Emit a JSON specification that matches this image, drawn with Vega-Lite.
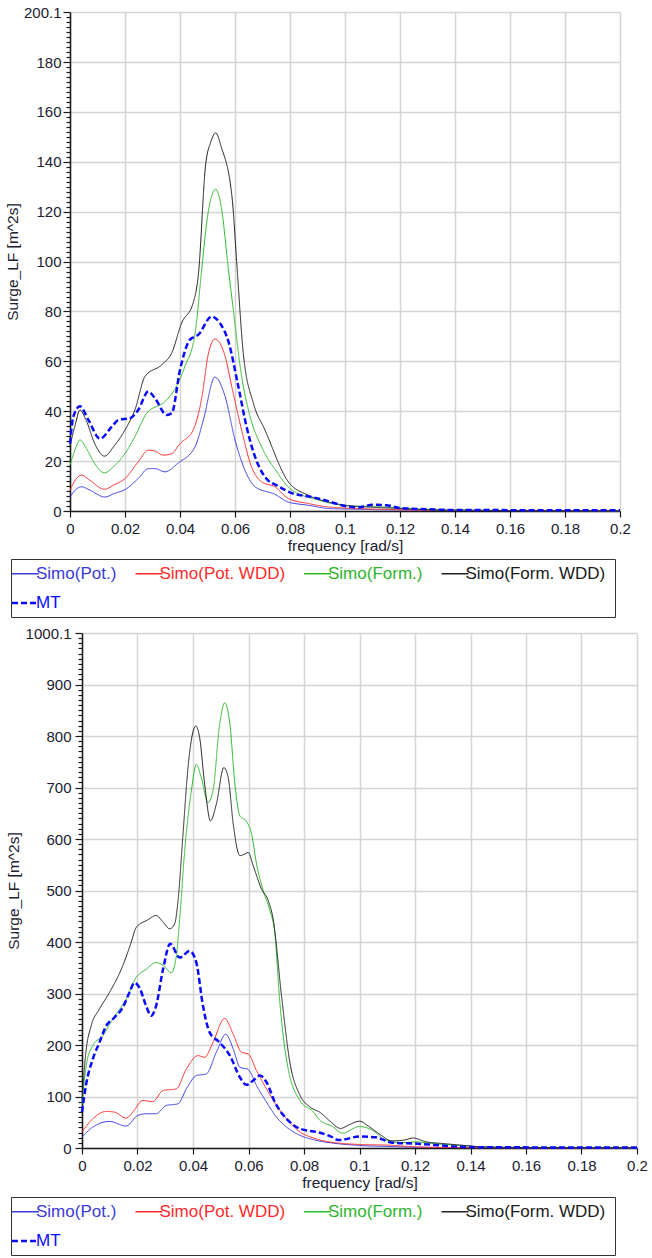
{
  "$schema": "https://vega.github.io/schema/vega-lite/v6.json",
  "padding": 5,
  "spacing": 8,
  "columns": 1,
  "datasets": {
    "top": [
      {"s":"Simo(Pot.)","f":0,"v":5.6},{"s":"Simo(Pot.)","f":0.002,"v":8.5},{"s":"Simo(Pot.)","f":0.0042,"v":9.7},{"s":"Simo(Pot.)","f":0.007,"v":8.5},{"s":"Simo(Pot.)","f":0.0127,"v":5.6},{"s":"Simo(Pot.)","f":0.016,"v":7},{"s":"Simo(Pot.)","f":0.02,"v":8.6},{"s":"Simo(Pot.)","f":0.0248,"v":13},{"s":"Simo(Pot.)","f":0.0285,"v":17},{"s":"Simo(Pot.)","f":0.031,"v":17},{"s":"Simo(Pot.)","f":0.0345,"v":15.7},{"s":"Simo(Pot.)","f":0.0394,"v":19.3},{"s":"Simo(Pot.)","f":0.0455,"v":25.8},{"s":"Simo(Pot.)","f":0.0485,"v":36.5},{"s":"Simo(Pot.)","f":0.0527,"v":53.7},{"s":"Simo(Pot.)","f":0.0564,"v":45.9},{"s":"Simo(Pot.)","f":0.06,"v":28.5},{"s":"Simo(Pot.)","f":0.0636,"v":16.4},{"s":"Simo(Pot.)","f":0.0673,"v":9.7},{"s":"Simo(Pot.)","f":0.0745,"v":6.7},{"s":"Simo(Pot.)","f":0.0794,"v":3.6},{"s":"Simo(Pot.)","f":0.0867,"v":2.3},{"s":"Simo(Pot.)","f":0.094,"v":1},{"s":"Simo(Pot.)","f":0.1,"v":0.8},{"s":"Simo(Pot.)","f":0.12,"v":0.4},{"s":"Simo(Pot.)","f":0.2,"v":0.1},
      {"s":"Simo(Pot. WDD)","f":0,"v":8.3},{"s":"Simo(Pot. WDD)","f":0.002,"v":12.5},{"s":"Simo(Pot. WDD)","f":0.0042,"v":14.4},{"s":"Simo(Pot. WDD)","f":0.007,"v":12.5},{"s":"Simo(Pot. WDD)","f":0.0125,"v":8.7},{"s":"Simo(Pot. WDD)","f":0.016,"v":10.5},{"s":"Simo(Pot. WDD)","f":0.02,"v":13},{"s":"Simo(Pot. WDD)","f":0.0248,"v":19.7},{"s":"Simo(Pot. WDD)","f":0.0285,"v":24.4},{"s":"Simo(Pot. WDD)","f":0.031,"v":24},{"s":"Simo(Pot. WDD)","f":0.034,"v":22.4},{"s":"Simo(Pot. WDD)","f":0.037,"v":23},{"s":"Simo(Pot. WDD)","f":0.04,"v":27},{"s":"Simo(Pot. WDD)","f":0.0448,"v":32.5},{"s":"Simo(Pot. WDD)","f":0.048,"v":45.9},{"s":"Simo(Pot. WDD)","f":0.0503,"v":63},{"s":"Simo(Pot. WDD)","f":0.0527,"v":69},{"s":"Simo(Pot. WDD)","f":0.0564,"v":62},{"s":"Simo(Pot. WDD)","f":0.0588,"v":50},{"s":"Simo(Pot. WDD)","f":0.0624,"v":32.5},{"s":"Simo(Pot. WDD)","f":0.066,"v":17.7},{"s":"Simo(Pot. WDD)","f":0.0697,"v":11.7},{"s":"Simo(Pot. WDD)","f":0.0745,"v":9.7},{"s":"Simo(Pot. WDD)","f":0.0794,"v":5},{"s":"Simo(Pot. WDD)","f":0.0867,"v":3},{"s":"Simo(Pot. WDD)","f":0.094,"v":1.6},{"s":"Simo(Pot. WDD)","f":0.1,"v":1.2},{"s":"Simo(Pot. WDD)","f":0.11,"v":0.8},{"s":"Simo(Pot. WDD)","f":0.12,"v":0.5},{"s":"Simo(Pot. WDD)","f":0.13,"v":0.3},{"s":"Simo(Pot. WDD)","f":0.2,"v":0.1},
      {"s":"Simo(Form.)","f":0,"v":18.4},{"s":"Simo(Form.)","f":0.002,"v":25},{"s":"Simo(Form.)","f":0.0036,"v":28.5},{"s":"Simo(Form.)","f":0.006,"v":25},{"s":"Simo(Form.)","f":0.009,"v":19},{"s":"Simo(Form.)","f":0.0125,"v":15.3},{"s":"Simo(Form.)","f":0.016,"v":18},{"s":"Simo(Form.)","f":0.02,"v":23},{"s":"Simo(Form.)","f":0.0236,"v":29.8},{"s":"Simo(Form.)","f":0.0279,"v":39.2},{"s":"Simo(Form.)","f":0.0345,"v":43.9},{"s":"Simo(Form.)","f":0.038,"v":48.6},{"s":"Simo(Form.)","f":0.0418,"v":58},{"s":"Simo(Form.)","f":0.0455,"v":71.4},{"s":"Simo(Form.)","f":0.0479,"v":97},{"s":"Simo(Form.)","f":0.05,"v":118},{"s":"Simo(Form.)","f":0.053,"v":129},{"s":"Simo(Form.)","f":0.055,"v":122},{"s":"Simo(Form.)","f":0.0576,"v":97},{"s":"Simo(Form.)","f":0.06,"v":75},{"s":"Simo(Form.)","f":0.062,"v":57},{"s":"Simo(Form.)","f":0.065,"v":40},{"s":"Simo(Form.)","f":0.07,"v":25},{"s":"Simo(Form.)","f":0.075,"v":16},{"s":"Simo(Form.)","f":0.08,"v":9},{"s":"Simo(Form.)","f":0.09,"v":4.5},{"s":"Simo(Form.)","f":0.1,"v":2.2},{"s":"Simo(Form.)","f":0.11,"v":1.8},{"s":"Simo(Form.)","f":0.12,"v":1.2},{"s":"Simo(Form.)","f":0.13,"v":0.6},{"s":"Simo(Form.)","f":0.14,"v":0.3},{"s":"Simo(Form.)","f":0.2,"v":0.1},
      {"s":"Simo(Form. WDD)","f":0,"v":26},{"s":"Simo(Form. WDD)","f":0.002,"v":35},{"s":"Simo(Form. WDD)","f":0.0036,"v":40.5},{"s":"Simo(Form. WDD)","f":0.006,"v":36},{"s":"Simo(Form. WDD)","f":0.009,"v":27},{"s":"Simo(Form. WDD)","f":0.0125,"v":22},{"s":"Simo(Form. WDD)","f":0.016,"v":26},{"s":"Simo(Form. WDD)","f":0.02,"v":32.5},{"s":"Simo(Form. WDD)","f":0.0236,"v":40.5},{"s":"Simo(Form. WDD)","f":0.0273,"v":54},{"s":"Simo(Form. WDD)","f":0.0333,"v":58.6},{"s":"Simo(Form. WDD)","f":0.037,"v":63.4},{"s":"Simo(Form. WDD)","f":0.0406,"v":75.4},{"s":"Simo(Form. WDD)","f":0.0448,"v":83.5},{"s":"Simo(Form. WDD)","f":0.0467,"v":95},{"s":"Simo(Form. WDD)","f":0.0493,"v":138.7},{"s":"Simo(Form. WDD)","f":0.0512,"v":148},{"s":"Simo(Form. WDD)","f":0.053,"v":151.6},{"s":"Simo(Form. WDD)","f":0.055,"v":146},{"s":"Simo(Form. WDD)","f":0.059,"v":125},{"s":"Simo(Form. WDD)","f":0.0606,"v":100},{"s":"Simo(Form. WDD)","f":0.063,"v":63.4},{"s":"Simo(Form. WDD)","f":0.0667,"v":43.2},{"s":"Simo(Form. WDD)","f":0.0709,"v":32.5},{"s":"Simo(Form. WDD)","f":0.0794,"v":11.7},{"s":"Simo(Form. WDD)","f":0.0867,"v":6.3},{"s":"Simo(Form. WDD)","f":0.094,"v":3.6},{"s":"Simo(Form. WDD)","f":0.1,"v":2.3},{"s":"Simo(Form. WDD)","f":0.11,"v":1.5},{"s":"Simo(Form. WDD)","f":0.12,"v":1},{"s":"Simo(Form. WDD)","f":0.13,"v":0.5},{"s":"Simo(Form. WDD)","f":0.14,"v":0.3},{"s":"Simo(Form. WDD)","f":0.2,"v":0.1},
      {"s":"MT","f":0,"v":27},{"s":"MT","f":0.0012,"v":37.8},{"s":"MT","f":0.0036,"v":42},{"s":"MT","f":0.0067,"v":36.5},{"s":"MT","f":0.0109,"v":29},{"s":"MT","f":0.0152,"v":33.8},{"s":"MT","f":0.0176,"v":36.5},{"s":"MT","f":0.0218,"v":37.2},{"s":"MT","f":0.0248,"v":40.5},{"s":"MT","f":0.0285,"v":47.9},{"s":"MT","f":0.0309,"v":45.2},{"s":"MT","f":0.0352,"v":38.5},{"s":"MT","f":0.037,"v":39.2},{"s":"MT","f":0.04,"v":56.6},{"s":"MT","f":0.0436,"v":68.7},{"s":"MT","f":0.0467,"v":70.7},{"s":"MT","f":0.0515,"v":78},{"s":"MT","f":0.0545,"v":75.4},{"s":"MT","f":0.0576,"v":68},{"s":"MT","f":0.0612,"v":50},{"s":"MT","f":0.0642,"v":33.8},{"s":"MT","f":0.0673,"v":21.7},{"s":"MT","f":0.0709,"v":13.7},{"s":"MT","f":0.0758,"v":9.9},{"s":"MT","f":0.0806,"v":7.2},{"s":"MT","f":0.0879,"v":5.6},{"s":"MT","f":0.094,"v":3.9},{"s":"MT","f":0.1,"v":2},{"s":"MT","f":0.105,"v":1.5},{"s":"MT","f":0.11,"v":2.5},{"s":"MT","f":0.115,"v":2.3},{"s":"MT","f":0.12,"v":1.2},{"s":"MT","f":0.13,"v":0.7},{"s":"MT","f":0.14,"v":0.4},{"s":"MT","f":0.2,"v":0.3}
    ],
    "bottom": [
      {"s":"Simo(Pot.)","f":0,"v":21.3},{"s":"Simo(Pot.)","f":0.0039,"v":40.6},{"s":"Simo(Pot.)","f":0.0099,"v":51.6},{"s":"Simo(Pot.)","f":0.0159,"v":42.6},{"s":"Simo(Pot.)","f":0.0201,"v":63.2},{"s":"Simo(Pot.)","f":0.0231,"v":66.5},{"s":"Simo(Pot.)","f":0.0267,"v":66.5},{"s":"Simo(Pot.)","f":0.0304,"v":82.6},{"s":"Simo(Pot.)","f":0.0346,"v":85.8},{"s":"Simo(Pot.)","f":0.0376,"v":114.8},{"s":"Simo(Pot.)","f":0.0412,"v":140.6},{"s":"Simo(Pot.)","f":0.0448,"v":143.9},{"s":"Simo(Pot.)","f":0.0484,"v":185.8},{"s":"Simo(Pot.)","f":0.0518,"v":221},{"s":"Simo(Pot.)","f":0.0545,"v":192.3},{"s":"Simo(Pot.)","f":0.0569,"v":156.8},{"s":"Simo(Pot.)","f":0.0599,"v":152.3},{"s":"Simo(Pot.)","f":0.0629,"v":121.3},{"s":"Simo(Pot.)","f":0.0665,"v":89},{"s":"Simo(Pot.)","f":0.0701,"v":60},{"s":"Simo(Pot.)","f":0.0737,"v":40.6},{"s":"Simo(Pot.)","f":0.0786,"v":24.5},{"s":"Simo(Pot.)","f":0.0834,"v":16.1},{"s":"Simo(Pot.)","f":0.0894,"v":10.3},{"s":"Simo(Pot.)","f":0.1,"v":5},{"s":"Simo(Pot.)","f":0.11,"v":3},{"s":"Simo(Pot.)","f":0.13,"v":1},{"s":"Simo(Pot.)","f":0.2,"v":0.3},
      {"s":"Simo(Pot. WDD)","f":0,"v":31},{"s":"Simo(Pot. WDD)","f":0.0039,"v":56.8},{"s":"Simo(Pot. WDD)","f":0.0087,"v":71},{"s":"Simo(Pot. WDD)","f":0.0117,"v":69.7},{"s":"Simo(Pot. WDD)","f":0.0159,"v":58},{"s":"Simo(Pot. WDD)","f":0.0183,"v":69.7},{"s":"Simo(Pot. WDD)","f":0.0219,"v":92.3},{"s":"Simo(Pot. WDD)","f":0.0255,"v":90},{"s":"Simo(Pot. WDD)","f":0.0292,"v":111.6},{"s":"Simo(Pot. WDD)","f":0.034,"v":114.8},{"s":"Simo(Pot. WDD)","f":0.0376,"v":153.5},{"s":"Simo(Pot. WDD)","f":0.0418,"v":179.4},{"s":"Simo(Pot. WDD)","f":0.0442,"v":176},{"s":"Simo(Pot. WDD)","f":0.0472,"v":205},{"s":"Simo(Pot. WDD)","f":0.0514,"v":251.6},{"s":"Simo(Pot. WDD)","f":0.0545,"v":221},{"s":"Simo(Pot. WDD)","f":0.0575,"v":185.8},{"s":"Simo(Pot. WDD)","f":0.0599,"v":182.6},{"s":"Simo(Pot. WDD)","f":0.0629,"v":150},{"s":"Simo(Pot. WDD)","f":0.0665,"v":114.8},{"s":"Simo(Pot. WDD)","f":0.0701,"v":82.6},{"s":"Simo(Pot. WDD)","f":0.0737,"v":56.8},{"s":"Simo(Pot. WDD)","f":0.0786,"v":31},{"s":"Simo(Pot. WDD)","f":0.0834,"v":19.4},{"s":"Simo(Pot. WDD)","f":0.0894,"v":11.6},{"s":"Simo(Pot. WDD)","f":0.1,"v":6.9},{"s":"Simo(Pot. WDD)","f":0.11,"v":5.6},{"s":"Simo(Pot. WDD)","f":0.121,"v":2},{"s":"Simo(Pot. WDD)","f":0.13,"v":1},{"s":"Simo(Pot. WDD)","f":0.2,"v":0.3},
      {"s":"Simo(Form.)","f":0,"v":85},{"s":"Simo(Form.)","f":0.0017,"v":166},{"s":"Simo(Form.)","f":0.0039,"v":198.7},{"s":"Simo(Form.)","f":0.0075,"v":218},{"s":"Simo(Form.)","f":0.011,"v":250},{"s":"Simo(Form.)","f":0.0159,"v":289},{"s":"Simo(Form.)","f":0.0195,"v":331},{"s":"Simo(Form.)","f":0.0231,"v":347},{"s":"Simo(Form.)","f":0.0267,"v":360},{"s":"Simo(Form.)","f":0.0292,"v":354.8},{"s":"Simo(Form.)","f":0.0322,"v":340.6},{"s":"Simo(Form.)","f":0.034,"v":373},{"s":"Simo(Form.)","f":0.0352,"v":444},{"s":"Simo(Form.)","f":0.037,"v":577},{"s":"Simo(Form.)","f":0.0394,"v":693.5},{"s":"Simo(Form.)","f":0.0412,"v":745},{"s":"Simo(Form.)","f":0.043,"v":719},{"s":"Simo(Form.)","f":0.0454,"v":671},{"s":"Simo(Form.)","f":0.0472,"v":693.5},{"s":"Simo(Form.)","f":0.0496,"v":822.6},{"s":"Simo(Form.)","f":0.0514,"v":864.5},{"s":"Simo(Form.)","f":0.0533,"v":822.6},{"s":"Simo(Form.)","f":0.0551,"v":706.5},{"s":"Simo(Form.)","f":0.0569,"v":645},{"s":"Simo(Form.)","f":0.0593,"v":634},{"s":"Simo(Form.)","f":0.0611,"v":609.7},{"s":"Simo(Form.)","f":0.0629,"v":551.6},{"s":"Simo(Form.)","f":0.0653,"v":500},{"s":"Simo(Form.)","f":0.0677,"v":461},{"s":"Simo(Form.)","f":0.0695,"v":416},{"s":"Simo(Form.)","f":0.0713,"v":282.6},{"s":"Simo(Form.)","f":0.0743,"v":153.5},{"s":"Simo(Form.)","f":0.0786,"v":92},{"s":"Simo(Form.)","f":0.0834,"v":69.7},{"s":"Simo(Form.)","f":0.0854,"v":55.6},{"s":"Simo(Form.)","f":0.0902,"v":41.7},{"s":"Simo(Form.)","f":0.0938,"v":29},{"s":"Simo(Form.)","f":0.1,"v":41.7},{"s":"Simo(Form.)","f":0.1046,"v":34.7},{"s":"Simo(Form.)","f":0.1094,"v":15.3},{"s":"Simo(Form.)","f":0.1154,"v":10.4},{"s":"Simo(Form.)","f":0.12,"v":11.8},{"s":"Simo(Form.)","f":0.1273,"v":8.3},{"s":"Simo(Form.)","f":0.1357,"v":4.9},{"s":"Simo(Form.)","f":0.145,"v":2},{"s":"Simo(Form.)","f":0.16,"v":1},{"s":"Simo(Form.)","f":0.2,"v":0.5},
      {"s":"Simo(Form. WDD)","f":0,"v":92},{"s":"Simo(Form. WDD)","f":0.0014,"v":186},{"s":"Simo(Form. WDD)","f":0.0033,"v":237},{"s":"Simo(Form. WDD)","f":0.0063,"v":270},{"s":"Simo(Form. WDD)","f":0.0099,"v":302},{"s":"Simo(Form. WDD)","f":0.0147,"v":354},{"s":"Simo(Form. WDD)","f":0.0177,"v":399},{"s":"Simo(Form. WDD)","f":0.0195,"v":428},{"s":"Simo(Form. WDD)","f":0.0237,"v":443},{"s":"Simo(Form. WDD)","f":0.0267,"v":451.6},{"s":"Simo(Form. WDD)","f":0.0292,"v":438.7},{"s":"Simo(Form. WDD)","f":0.0316,"v":425.8},{"s":"Simo(Form. WDD)","f":0.0334,"v":435.5},{"s":"Simo(Form. WDD)","f":0.0346,"v":480},{"s":"Simo(Form. WDD)","f":0.0364,"v":609.7},{"s":"Simo(Form. WDD)","f":0.0382,"v":738.7},{"s":"Simo(Form. WDD)","f":0.041,"v":819.4},{"s":"Simo(Form. WDD)","f":0.0424,"v":796.8},{"s":"Simo(Form. WDD)","f":0.0442,"v":706.5},{"s":"Simo(Form. WDD)","f":0.0463,"v":635.5},{"s":"Simo(Form. WDD)","f":0.0484,"v":667.7},{"s":"Simo(Form. WDD)","f":0.0511,"v":738.7},{"s":"Simo(Form. WDD)","f":0.0527,"v":719},{"s":"Simo(Form. WDD)","f":0.0545,"v":629},{"s":"Simo(Form. WDD)","f":0.0569,"v":567.7},{"s":"Simo(Form. WDD)","f":0.0587,"v":571},{"s":"Simo(Form. WDD)","f":0.0599,"v":574},{"s":"Simo(Form. WDD)","f":0.0617,"v":548},{"s":"Simo(Form. WDD)","f":0.0647,"v":503},{"s":"Simo(Form. WDD)","f":0.0671,"v":480.6},{"s":"Simo(Form. WDD)","f":0.0689,"v":444},{"s":"Simo(Form. WDD)","f":0.0719,"v":295.5},{"s":"Simo(Form. WDD)","f":0.0749,"v":166.5},{"s":"Simo(Form. WDD)","f":0.0786,"v":102},{"s":"Simo(Form. WDD)","f":0.0822,"v":79.4},{"s":"Simo(Form. WDD)","f":0.0858,"v":69},{"s":"Simo(Form. WDD)","f":0.0894,"v":52},{"s":"Simo(Form. WDD)","f":0.0932,"v":38},{"s":"Simo(Form. WDD)","f":0.0962,"v":45},{"s":"Simo(Form. WDD)","f":0.1,"v":52},{"s":"Simo(Form. WDD)","f":0.1034,"v":41.7},{"s":"Simo(Form. WDD)","f":0.107,"v":27.8},{"s":"Simo(Form. WDD)","f":0.1117,"v":13.9},{"s":"Simo(Form. WDD)","f":0.116,"v":15.3},{"s":"Simo(Form. WDD)","f":0.1194,"v":19.4},{"s":"Simo(Form. WDD)","f":0.1237,"v":12.5},{"s":"Simo(Form. WDD)","f":0.1309,"v":8.3},{"s":"Simo(Form. WDD)","f":0.138,"v":4.9},{"s":"Simo(Form. WDD)","f":0.145,"v":2},{"s":"Simo(Form. WDD)","f":0.16,"v":1},{"s":"Simo(Form. WDD)","f":0.2,"v":0.5},
      {"s":"MT","f":0,"v":69.7},{"s":"MT","f":0.0014,"v":121},{"s":"MT","f":0.0039,"v":173},{"s":"MT","f":0.0063,"v":205},{"s":"MT","f":0.0087,"v":237},{"s":"MT","f":0.0117,"v":253.5},{"s":"MT","f":0.0147,"v":273},{"s":"MT","f":0.0171,"v":302},{"s":"MT","f":0.0189,"v":321},{"s":"MT","f":0.0207,"v":311.6},{"s":"MT","f":0.0231,"v":276},{"s":"MT","f":0.0249,"v":256.8},{"s":"MT","f":0.0267,"v":276},{"s":"MT","f":0.0292,"v":347},{"s":"MT","f":0.0318,"v":396.8},{"s":"MT","f":0.0352,"v":369.7},{"s":"MT","f":0.0388,"v":382.6},{"s":"MT","f":0.0412,"v":360},{"s":"MT","f":0.0436,"v":276},{"s":"MT","f":0.046,"v":224.5},{"s":"MT","f":0.0496,"v":205},{"s":"MT","f":0.0533,"v":179.4},{"s":"MT","f":0.0569,"v":137.4},{"s":"MT","f":0.0593,"v":122.6},{"s":"MT","f":0.0617,"v":131},{"s":"MT","f":0.0641,"v":140.6},{"s":"MT","f":0.0665,"v":127.7},{"s":"MT","f":0.0695,"v":89},{"s":"MT","f":0.0737,"v":56.8},{"s":"MT","f":0.0786,"v":37.4},{"s":"MT","f":0.0846,"v":31},{"s":"MT","f":0.0894,"v":23.2},{"s":"MT","f":0.0926,"v":15.3},{"s":"MT","f":0.1,"v":22.2},{"s":"MT","f":0.1058,"v":20.8},{"s":"MT","f":0.1117,"v":10.4},{"s":"MT","f":0.121,"v":8.3},{"s":"MT","f":0.133,"v":3.5},{"s":"MT","f":0.145,"v":1.4},{"s":"MT","f":0.2,"v":1}
    ]
  },
  "concat": [
    {
      "data": {"name": "top"},
      "width": 538,
      "height": 499,
      "encoding": {
        "x": {"field": "f", "type": "quantitative", "title": "frequency [rad/s]",
              "scale": {"domain": [0, 0.2], "nice": false, "range": [-12, 538]},
              "axis": {"values": [0,0.02,0.04,0.06,0.08,0.1,0.12,0.14,0.16,0.18,0.2], "format": "~g"}},
        "y": {"field": "v", "type": "quantitative", "title": "Surge_LF [m^2s]",
              "scale": {"domain": [0, 200.1], "nice": false, "zero": true},
              "axis": {
                "offset": 12,
                "titlePadding": 3,
                "labelPadding": 2,
                "values": [0,2,4,6,8,10,12,14,16,18,20,22,24,26,28,30,32,34,36,38,40,42,44,46,48,50,52,54,56,58,60,62,64,66,68,70,72,74,76,78,80,82,84,86,88,90,92,94,96,98,100,102,104,106,108,110,112,114,116,118,120,122,124,126,128,130,132,134,136,138,140,142,144,146,148,150,152,154,156,158,160,162,164,166,168,170,172,174,176,178,180,182,184,186,188,190,192,194,196,198,200.1],
                "labelExpr": "(datum.value % 20 === 0 || datum.value > 200) ? format(datum.value, '~g') : ''",
                "tickSize": {"condition": {"test": "datum.value % 20 === 0 || datum.value > 200", "value": 7}, "value": 4},
                "gridOpacity": {"condition": {"test": "datum.value % 20 === 0 || datum.value > 200", "value": 1}, "value": 0}
              }},
        "color": {"field": "s", "type": "nominal",
                  "scale": {"domain": ["Simo(Pot.)","Simo(Pot. WDD)","Simo(Form.)","Simo(Form. WDD)","MT"],
                            "range": ["#3c3ce6","#ff2a2a","#2dbb2d","#222222","#0a0aff"]},
                  "legend": {"title": "\u00a0\u00a0", "titleOrient": "right", "titlePadding": 4, "orient": "none", "legendX": -71, "legendY": 547, "direction": "horizontal", "columns": 4,
                             "encode": {
                               "labels": {"update": {"fill": {"signal": "datum.value === 'Simo(Pot.)' ? '#3a3ad8' : datum.value === 'Simo(Pot. WDD)' ? '#ff2a2a' : datum.value === 'Simo(Form.)' ? '#2db42d' : datum.value === 'MT' ? '#0a0aff' : '#1a1a1a'"}}},
                               "symbols": {"update": {"strokeWidth": {"signal": "datum.value === 'MT' ? 2.5 : 1.3"}}}
                             }}},
        "strokeDash": {"field": "s", "type": "nominal",
                  "scale": {"domain": ["Simo(Pot.)","Simo(Pot. WDD)","Simo(Form.)","Simo(Form. WDD)","MT"],
                            "range": [[1,0],[1,0],[1,0],[1,0],[6,3]]},
                  "legend": {"title": "\u00a0\u00a0", "titleOrient": "right", "titlePadding": 4, "orient": "none", "legendX": -71, "legendY": 547, "direction": "horizontal", "columns": 4}}
      },
      "layer": [
        {"transform": [{"filter": "datum.s !== 'MT'"}], "mark": {"type": "line", "interpolate": "monotone", "strokeWidth": 1}},
        {"transform": [{"filter": "datum.s === 'MT'"}], "mark": {"type": "line", "interpolate": "monotone", "strokeWidth": 2.5}}
      ]
    },
    {
      "data": {"name": "bottom"},
      "width": 555,
      "height": 515,
      "encoding": {
        "x": {"field": "f", "type": "quantitative", "title": "frequency [rad/s]",
              "scale": {"domain": [0, 0.2], "nice": false},
              "axis": {"values": [0,0.02,0.04,0.06,0.08,0.1,0.12,0.14,0.16,0.18,0.2], "format": "~g"}},
        "y": {"field": "v", "type": "quantitative", "title": "Surge_LF [m^2s]",
              "scale": {"domain": [0, 1000.1], "nice": false, "zero": true},
              "axis": {
                "titlePadding": 4,
                "labelPadding": 4,
                "values": [0,10,20,30,40,50,60,70,80,90,100,110,120,130,140,150,160,170,180,190,200,210,220,230,240,250,260,270,280,290,300,310,320,330,340,350,360,370,380,390,400,410,420,430,440,450,460,470,480,490,500,510,520,530,540,550,560,570,580,590,600,610,620,630,640,650,660,670,680,690,700,710,720,730,740,750,760,770,780,790,800,810,820,830,840,850,860,870,880,890,900,910,920,930,940,950,960,970,980,990,1000.1],
                "labelExpr": "(datum.value % 100 === 0 || datum.value > 1000) ? format(datum.value, '~g') : ''",
                "tickSize": {"condition": {"test": "datum.value % 100 === 0 || datum.value > 1000", "value": 7}, "value": 4},
                "gridOpacity": {"condition": {"test": "datum.value % 100 === 0 || datum.value > 1000", "value": 1}, "value": 0}
              }},
        "color": {"field": "s", "type": "nominal",
                  "scale": {"domain": ["Simo(Pot.)","Simo(Pot. WDD)","Simo(Form.)","Simo(Form. WDD)","MT"],
                            "range": ["#3c3ce6","#ff2a2a","#2dbb2d","#222222","#0a0aff"]},
                  "legend": {"title": "\u00a0\u00a0", "titleOrient": "right", "titlePadding": 4, "orient": "none", "legendX": -71, "legendY": 564, "direction": "horizontal", "columns": 4,
                             "encode": {
                               "labels": {"update": {"fill": {"signal": "datum.value === 'Simo(Pot.)' ? '#3a3ad8' : datum.value === 'Simo(Pot. WDD)' ? '#ff2a2a' : datum.value === 'Simo(Form.)' ? '#2db42d' : datum.value === 'MT' ? '#0a0aff' : '#1a1a1a'"}}},
                               "symbols": {"update": {"strokeWidth": {"signal": "datum.value === 'MT' ? 2.5 : 1.3"}}}
                             }}},
        "strokeDash": {"field": "s", "type": "nominal",
                  "scale": {"domain": ["Simo(Pot.)","Simo(Pot. WDD)","Simo(Form.)","Simo(Form. WDD)","MT"],
                            "range": [[1,0],[1,0],[1,0],[1,0],[6,3]]},
                  "legend": {"title": "\u00a0\u00a0", "titleOrient": "right", "titlePadding": 4, "orient": "none", "legendX": -71, "legendY": 564, "direction": "horizontal", "columns": 4}}
      },
      "layer": [
        {"transform": [{"filter": "datum.s !== 'MT'"}], "mark": {"type": "line", "interpolate": "monotone", "strokeWidth": 1}},
        {"transform": [{"filter": "datum.s === 'MT'"}], "mark": {"type": "line", "interpolate": "monotone", "strokeWidth": 2.5}}
      ]
    }
  ],
  "resolve": {
    "scale": {"x": "independent", "y": "independent", "color": "independent", "strokeDash": "independent"},
    "legend": {"color": "independent", "strokeDash": "independent"}
  },
  "config": {
    "font": "Liberation Sans",
    "view": {"stroke": null},
    "axis": {
      "grid": true,
      "gridColor": "#d4d4d4",
      "gridWidth": 1.5,
      "domainColor": "#1a1a1a",
      "domainWidth": 1.5,
      "tickColor": "#1a1a1a",
      "tickWidth": 1.2,
      "labelFont": "Liberation Sans",
      "labelFontSize": 15,
      "labelColor": "#202030",
      "labelOverlap": false,
      "labelBound": false,
      "labelFlush": false,
      "labelPadding": 2,
      "titleFont": "Liberation Sans",
      "titleFontSize": 15.5,
      "titleFontWeight": "normal",
      "titleColor": "#202030"
    },
    "axisX": {"tickSize": 6, "labelPadding": 4, "titlePadding": 2},
    "legend": {
      "symbolType": "stroke",
      "symbolSize": 729,
      "symbolStrokeWidth": 1.3,
      "labelFont": "Liberation Sans",
      "labelFontSize": 17,
      "labelOffset": 2,
      "columnPadding": 15.5,
      "rowPadding": 11.5,
      "strokeColor": "#333333",
      "padding": 6,
      "titleFontSize": 17,
      "labelLimit": 300
    }
  }
}
